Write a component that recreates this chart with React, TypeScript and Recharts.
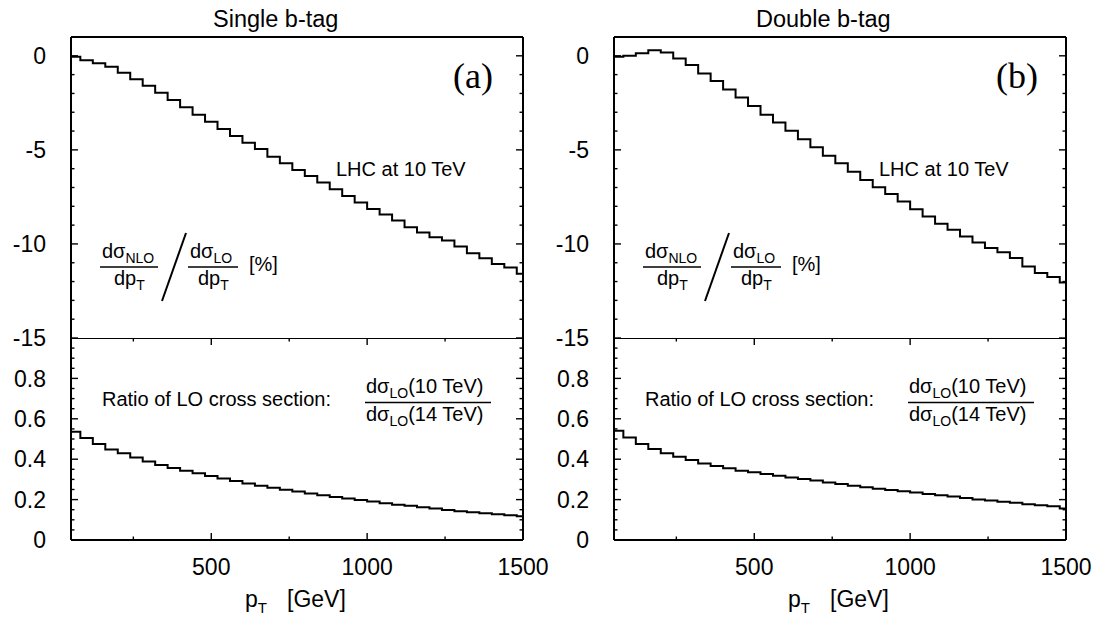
import React from 'react';
import { LineChart, Line, XAxis, YAxis, ReferenceLine, Customized } from 'recharts';

// bin edges in p_T [GeV]; each series value belongs to the bin starting at the same index
const binEdges = [
    40, 80, 120, 160, 200, 240, 280, 320, 360, 400, 440, 480, 520, 560, 600, 640, 680, 720, 760,
    800, 840, 880, 920, 960, 1000, 1040, 1080, 1120, 1160, 1200, 1240, 1280, 1320, 1360, 1400,
    1440, 1480, 1520,
];

const singleNlo = [
    -0.05, -0.23, -0.4, -0.58, -0.9, -1.24, -1.59, -1.96, -2.35, -2.74, -3.13, -3.5, -3.89, -4.26,
    -4.62, -4.95, -5.36, -5.71, -6.07, -6.39, -6.74, -7.09, -7.45, -7.8, -8.14, -8.44, -8.76,
    -9.11, -9.39, -9.64, -9.82, -10.14, -10.49, -10.76, -11.06, -11.25, -11.59,
];
const singleRatio = [
    0.536, 0.505, 0.475, 0.448, 0.429, 0.409, 0.389, 0.371, 0.357, 0.343, 0.33, 0.317, 0.304,
    0.292, 0.28, 0.269, 0.259, 0.249, 0.24, 0.23, 0.221, 0.213, 0.205, 0.198, 0.19, 0.182, 0.175,
    0.169, 0.162, 0.156, 0.149, 0.142, 0.137, 0.132, 0.127, 0.122, 0.117,
];
const doubleNlo = [
    -0.05, 0.0, 0.13, 0.3, 0.18, -0.14, -0.49, -0.94, -1.34, -1.79, -2.21, -2.67, -3.13, -3.55,
    -3.98, -4.44, -4.86, -5.31, -5.71, -6.16, -6.6, -6.99, -7.34, -7.75, -8.15, -8.54, -8.93,
    -9.25, -9.61, -9.93, -10.21, -10.44, -10.75, -11.2, -11.55, -11.76, -12.05,
];
const doubleRatio = [
    0.541, 0.508, 0.475, 0.45, 0.429, 0.412, 0.396, 0.379, 0.366, 0.355, 0.343, 0.335, 0.327,
    0.318, 0.31, 0.302, 0.294, 0.285, 0.277, 0.269, 0.261, 0.254, 0.248, 0.241, 0.235, 0.228,
    0.221, 0.215, 0.208, 0.201, 0.195, 0.189, 0.184, 0.177, 0.172, 0.167, 0.156,
];

const xTicks = [250, 500, 750, 1000, 1250, 1500];
const xLabels = [500, 1000, 1500];
const nloTicks = [-15, -14, -13, -12, -11, -10, -9, -8, -7, -6, -5, -4, -3, -2, -1, 0, 1];
const nloLabels = [0, -5, -10, -15];
const ratioTicks = [
    0, 0.05, 0.1, 0.15, 0.2, 0.25, 0.3, 0.35, 0.4, 0.45, 0.5, 0.55, 0.6, 0.65, 0.7, 0.75, 0.8,
    0.85, 0.9, 0.95, 1,
];
const ratioLabels = [0, 0.2, 0.4, 0.6, 0.8];

const FONT = '"Liberation Sans", Arial, Helvetica, sans-serif';
const PLOT_W = 452;
const TOP_H = 301;
const BOT_H = 202;

const toRows = (values: number[]) =>
    binEdges.map((x, i) => ({ x, v: values[Math.min(i, values.length - 1)] }));

const isMultiple = (v: number, step: number) => Math.abs(v / step - Math.round(v / step)) < 1e-6;

// left axis tick: draws inward ticks on the left and right borders plus the label
const YTick = (props: any) => {
    const { x, y, payload, labels, majorStep } = props;
    const v = payload.value;
    const len = isMultiple(v, majorStep) ? 7 : 3.5;
    return (
        <g>
            <line x1={x} x2={x + len} y1={y} y2={y} stroke="#000" strokeWidth={1.4} />
            <line x1={x + PLOT_W - len} x2={x + PLOT_W} y1={y} y2={y} stroke="#000" strokeWidth={1.4} />
            {labels.includes(v) && (
                <text x={x - 25} y={y} dy="0.36em" textAnchor="end" fontSize={23} fontFamily={FONT} fill="#000">
                    {String(v)}
                </text>
            )}
        </g>
    );
};

// bottom axis tick: inward ticks on the bottom and top borders plus the label
const XTick = (props: any) => {
    const { x, y, payload, plotH, bottom, labelled } = props;
    const v = payload.value;
    const len = xLabels.includes(v) ? 7 : 3.5;
    return (
        <g>
            <line x1={x} x2={x} y1={y - plotH} y2={y - plotH + len} stroke="#000" strokeWidth={1.4} />
            {bottom && <line x1={x} x2={x} y1={y} y2={y - len} stroke="#000" strokeWidth={1.4} />}
            {labelled && xLabels.includes(v) && (
                <text x={x} y={y + 35} textAnchor="middle" fontSize={23} fontFamily={FONT} fill="#000">
                    {String(v)}
                </text>
            )}
        </g>
    );
};

const NloNote = ({ title, tag }: { title: string; tag: string }) => (
    <g fontFamily={FONT} fill="#000">
        <text x={213} y={27} fontSize={23.5}>{title}</text>
        <text x={453} y={88} fontSize={36} fontFamily='"Liberation Serif", "Times New Roman", serif'>
            {tag}
        </text>
        <text x={336} y={176} fontSize={20}>LHC at 10 TeV</text>
        <text x={102} y={258} fontSize={20}>
            dσ<tspan fontSize={14} dy={5}>NLO</tspan>
        </text>
        <line x1={100} x2={158} y1={267} y2={267} stroke="#000" strokeWidth={1.3} />
        <text x={114} y={285} fontSize={20}>
            dp<tspan fontSize={14} dy={5}>T</tspan>
        </text>
        <line x1={186} y1={233} x2={162} y2={301} stroke="#000" strokeWidth={2} />
        <text x={190} y={258} fontSize={20}>
            dσ<tspan fontSize={14} dy={5}>LO</tspan>
        </text>
        <line x1={188} x2={238} y1={267} y2={267} stroke="#000" strokeWidth={1.3} />
        <text x={198} y={285} fontSize={20}>
            dp<tspan fontSize={14} dy={5}>T</tspan>
        </text>
        <text x={249} y={271} fontSize={20}>[%]</text>
    </g>
);

const RatioNote = () => (
    <g fontFamily={FONT} fill="#000">
        <text x={102} y={68} fontSize={20}>Ratio of LO cross section:</text>
        <text x={366} y={55} fontSize={20}>
            dσ<tspan fontSize={14} dy={5}>LO</tspan>
            <tspan dy={-5}>(10 TeV)</tspan>
        </text>
        <line x1={365} x2={491} y1={64.5} y2={64.5} stroke="#000" strokeWidth={1.3} />
        <text x={366} y={83} fontSize={20}>
            dσ<tspan fontSize={14} dy={5}>LO</tspan>
            <tspan dy={-5}>(14 TeV)</tspan>
        </text>
        <text x={245} y={269} fontSize={23}>
            p<tspan fontSize={15} dy={6}>T</tspan>
        </text>
        <text x={287} y={269} fontSize={23}>[GeV]</text>
    </g>
);

const axisLine = { stroke: '#000', strokeWidth: 2 };

// upper panel is taller than its plot so the "-15" label at the divider is not cut off
const TopPanel = ({ values, title, tag }: { values: number[]; title: string; tag: string }) => (
    <LineChart width={550} height={360} data={toRows(values)} margin={{ top: 37, right: 27, bottom: 22, left: 0 }}>
        <XAxis
            type="number"
            dataKey="x"
            domain={[50, 1500]}
            allowDataOverflow
            ticks={xTicks}
            interval={0}
            height={0}
            tickSize={0}
            tickMargin={0}
            tickLine={false}
            axisLine={axisLine}
            tick={(p: any) => <XTick {...p} plotH={TOP_H} bottom={false} labelled={false} />}
        />
        <YAxis
            type="number"
            domain={[-15, 1]}
            allowDataOverflow
            ticks={nloTicks}
            interval={0}
            width={71}
            tickSize={0}
            tickMargin={0}
            tickLine={false}
            axisLine={axisLine}
            tick={(p: any) => <YTick {...p} labels={nloLabels} majorStep={5} />}
        />
        <ReferenceLine y={1} stroke="#000" strokeWidth={2} />
        <ReferenceLine x={1500} stroke="#000" strokeWidth={2} />
        <Line
            type="stepAfter"
            dataKey="v"
            stroke="#000"
            strokeWidth={2}
            dot={false}
            activeDot={false}
            isAnimationActive={false}
        />
        <Customized component={<NloNote title={title} tag={tag} />} />
    </LineChart>
);

const BottomPanel = ({ values }: { values: number[] }) => (
    <LineChart width={550} height={282} data={toRows(values)} margin={{ top: 0, right: 27, bottom: 0, left: 0 }}>
        <XAxis
            type="number"
            dataKey="x"
            domain={[50, 1500]}
            allowDataOverflow
            ticks={xTicks}
            interval={0}
            height={80}
            tickSize={0}
            tickMargin={0}
            tickLine={false}
            axisLine={axisLine}
            tick={(p: any) => <XTick {...p} plotH={BOT_H} bottom labelled />}
        />
        <YAxis
            type="number"
            domain={[0, 1]}
            allowDataOverflow
            ticks={ratioTicks}
            interval={0}
            width={71}
            tickSize={0}
            tickMargin={0}
            tickLine={false}
            axisLine={axisLine}
            tick={(p: any) => <YTick {...p} labels={ratioLabels} majorStep={0.2} />}
        />
        <ReferenceLine y={1} stroke="#000" strokeWidth={2} />
        <ReferenceLine x={1500} stroke="#000" strokeWidth={2} />
        <Line
            type="stepAfter"
            dataKey="v"
            stroke="#000"
            strokeWidth={2}
            dot={false}
            activeDot={false}
            isAnimationActive={false}
        />
        <Customized component={<RatioNote />} />
    </LineChart>
);

const App = () => (
    <div style={{ position: 'absolute', left: 0, top: 0, width: 1099, height: 620, background: '#fff' }}>
        <div style={{ position: 'absolute', left: 0, top: 0 }}>
            <TopPanel values={singleNlo} title="Single b-tag" tag="(a)" />
        </div>
        <div style={{ position: 'absolute', left: 0, top: 338 }}>
            <BottomPanel values={singleRatio} />
        </div>
        <div style={{ position: 'absolute', left: 543, top: 0 }}>
            <TopPanel values={doubleNlo} title="Double b-tag" tag="(b)" />
        </div>
        <div style={{ position: 'absolute', left: 543, top: 338 }}>
            <BottomPanel values={doubleRatio} />
        </div>
    </div>
);

export default App;
